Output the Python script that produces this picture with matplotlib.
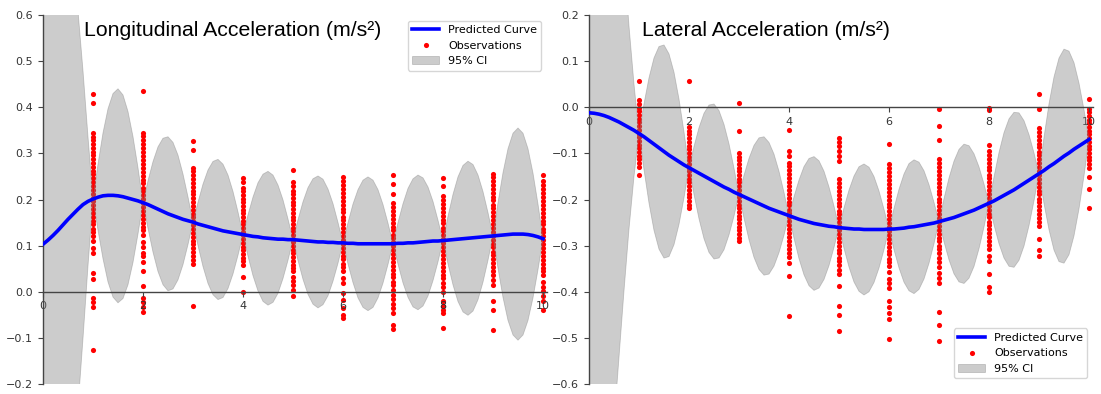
import numpy as np
import matplotlib
matplotlib.use("Agg")
import matplotlib.pyplot as plt

# ---------------------------------------------------------------- data
# prediction grid: 0.0, 0.1, ..., 10.0
x_grid = np.round(np.arange(0, 101) / 10.0, 1)
x_obs = [1, 2, 3, 4, 5, 6, 7, 8, 9, 10]

lon_mean = [
    0.103, 0.112, 0.122, 0.133, 0.145, 0.157, 0.168, 0.179, 0.189, 0.196,
    0.201, 0.205, 0.208, 0.209, 0.209, 0.208, 0.206, 0.203, 0.200, 0.197,
    0.193, 0.189, 0.184, 0.179, 0.174, 0.169, 0.165, 0.161, 0.157, 0.154,
    0.151, 0.147, 0.144, 0.141, 0.138, 0.135, 0.132, 0.130, 0.128, 0.126,
    0.124, 0.122, 0.120, 0.119, 0.117, 0.116, 0.115, 0.114, 0.114, 0.113,
    0.113, 0.112, 0.111, 0.110, 0.109, 0.108, 0.108, 0.107, 0.107, 0.106,
    0.106, 0.105, 0.105, 0.104, 0.104, 0.104, 0.104, 0.104, 0.104, 0.104,
    0.104, 0.105, 0.105, 0.106, 0.106, 0.107, 0.108, 0.109, 0.110, 0.110,
    0.111, 0.112, 0.113, 0.114, 0.115, 0.116, 0.117, 0.118, 0.119, 0.120,
    0.121, 0.122, 0.123, 0.124, 0.125, 0.125, 0.125, 0.124, 0.122, 0.119,
    0.115]

lat_mean = [
    -0.012, -0.013, -0.015, -0.018, -0.022, -0.027, -0.032, -0.038, -0.044, -0.050,
    -0.057, -0.064, -0.072, -0.080, -0.088, -0.096, -0.104, -0.111, -0.118, -0.125,
    -0.131, -0.137, -0.143, -0.149, -0.155, -0.161, -0.167, -0.173, -0.178, -0.184,
    -0.189, -0.194, -0.199, -0.204, -0.209, -0.214, -0.219, -0.223, -0.227, -0.231,
    -0.235, -0.239, -0.243, -0.246, -0.249, -0.252, -0.254, -0.256, -0.258, -0.259,
    -0.261, -0.262, -0.263, -0.264, -0.264, -0.265, -0.265, -0.265, -0.265, -0.265,
    -0.264, -0.264, -0.263, -0.262, -0.260, -0.259, -0.257, -0.255, -0.253, -0.251,
    -0.248, -0.245, -0.242, -0.239, -0.235, -0.231, -0.227, -0.223, -0.218, -0.213,
    -0.208, -0.203, -0.197, -0.191, -0.185, -0.179, -0.172, -0.165, -0.158, -0.151,
    -0.144, -0.137, -0.129, -0.122, -0.114, -0.106, -0.099, -0.091, -0.084, -0.077,
    -0.070]

# CI half-width before the first observation (x = 0.0 ... 1.0)
lon_head_halfwidth = [1.43, 1.29, 1.14, 1.00, 0.86, 0.72, 0.57, 0.43, 0.29, 0.14, 0.0]
lat_head_halfwidth = [1.52, 1.34, 1.16, 0.99, 0.82, 0.66, 0.51, 0.36, 0.22, 0.10, 0.0]

# widest CI half-width between consecutive observation points (1-2, ..., 9-10)
lon_gap_halfwidth = [0.232, 0.167, 0.152, 0.145, 0.143, 0.145, 0.146, 0.167, 0.230]
lat_gap_halfwidth = [0.231, 0.168, 0.150, 0.145, 0.142, 0.145, 0.151, 0.168, 0.232]

lon_obs = [
    [0.429, 0.409, 0.344, 0.336, 0.329, 0.320, 0.312, 0.303, 0.296, 0.287, 0.279, 0.270,
     0.262, 0.255, 0.246, 0.238, 0.229, 0.221, 0.213, 0.204, 0.196, 0.188, 0.179, 0.171,
     0.163, 0.154, 0.146, 0.137, 0.129, 0.120, 0.111, 0.095, 0.084, 0.040, 0.027, -0.014,
     -0.023, -0.032, -0.127],
    [0.435, 0.345, 0.337, 0.328, 0.320, 0.311, 0.303, 0.294, 0.286, 0.277, 0.269, 0.260,
     0.252, 0.243, 0.235, 0.226, 0.218, 0.209, 0.201, 0.192, 0.184, 0.175, 0.167, 0.158,
     0.150, 0.141, 0.133, 0.124, 0.107, 0.097, 0.085, 0.077, 0.064, 0.046, 0.012, -0.014,
     -0.023, -0.032, -0.043],
    [0.327, 0.307, 0.269, 0.261, 0.253, 0.244, 0.236, 0.228, 0.219, 0.211, 0.203, 0.194,
     0.186, 0.178, 0.169, 0.161, 0.153, 0.144, 0.136, 0.128, 0.119, 0.111, 0.103, 0.094,
     0.086, 0.078, 0.069, 0.061, -0.031],
    [0.246, 0.238, 0.226, 0.218, 0.210, 0.202, 0.194, 0.186, 0.178, 0.170, 0.162, 0.154,
     0.146, 0.138, 0.130, 0.122, 0.114, 0.106, 0.098, 0.090, 0.082, 0.074, 0.066, 0.057,
     0.033, 0.000],
    [0.265, 0.239, 0.230, 0.219, 0.211, 0.203, 0.195, 0.187, 0.179, 0.171, 0.163, 0.155,
     0.147, 0.139, 0.131, 0.123, 0.115, 0.107, 0.099, 0.091, 0.083, 0.075, 0.067, 0.059,
     0.051, 0.044, 0.033, 0.024, 0.015, 0.004, -0.010],
    [0.248, 0.240, 0.231, 0.223, 0.214, 0.206, 0.197, 0.189, 0.180, 0.172, 0.163, 0.155,
     0.146, 0.138, 0.129, 0.121, 0.112, 0.104, 0.095, 0.087, 0.078, 0.070, 0.061, 0.053,
     0.044, 0.030, 0.019, -0.003, -0.017, -0.035, -0.050, -0.057],
    [0.254, 0.234, 0.211, 0.192, 0.184, 0.175, 0.167, 0.158, 0.150, 0.141, 0.133, 0.124,
     0.116, 0.107, 0.099, 0.090, 0.082, 0.073, 0.065, 0.056, 0.048, 0.039, 0.031, 0.022,
     0.014, 0.004, -0.006, -0.016, -0.026, -0.036, -0.046, -0.072, -0.081],
    [0.247, 0.230, 0.207, 0.199, 0.190, 0.182, 0.173, 0.165, 0.156, 0.148, 0.139, 0.131,
     0.122, 0.114, 0.105, 0.097, 0.088, 0.080, 0.071, 0.063, 0.054, 0.046, 0.037, 0.029,
     0.020, 0.011, 0.000, -0.021, -0.031, -0.039, -0.046, -0.079],
    [0.256, 0.248, 0.240, 0.232, 0.223, 0.215, 0.206, 0.198, 0.189, 0.181, 0.172, 0.164,
     0.155, 0.147, 0.138, 0.130, 0.121, 0.113, 0.104, 0.096, 0.087, 0.079, 0.070, 0.062,
     0.053, 0.045, 0.037, 0.026, 0.015, -0.021, -0.039, -0.082],
    [0.253, 0.241, 0.232, 0.222, 0.214, 0.205, 0.197, 0.188, 0.180, 0.171, 0.163, 0.154,
     0.146, 0.137, 0.129, 0.120, 0.112, 0.103, 0.095, 0.086, 0.078, 0.069, 0.061, 0.052,
     0.044, 0.036, 0.022, 0.011, 0.001, -0.010, -0.021, -0.039],
]

lat_obs = [
    [0.057, 0.015, 0.007, -0.001, -0.009, -0.017, -0.025, -0.033, -0.041, -0.049, -0.057,
     -0.065, -0.073, -0.081, -0.089, -0.097, -0.105, -0.113, -0.121, -0.130, -0.146],
    [0.057, -0.043, -0.051, -0.059, -0.067, -0.075, -0.083, -0.091, -0.099, -0.107, -0.115,
     -0.123, -0.131, -0.139, -0.147, -0.155, -0.163, -0.171, -0.179, -0.187, -0.195,
     -0.203, -0.211, -0.219],
    [0.009, -0.052, -0.099, -0.107, -0.115, -0.123, -0.131, -0.139, -0.147, -0.155, -0.163,
     -0.171, -0.179, -0.187, -0.195, -0.203, -0.211, -0.219, -0.227, -0.235, -0.243,
     -0.251, -0.259, -0.267, -0.275, -0.283, -0.290],
    [-0.049, -0.095, -0.105, -0.120, -0.128, -0.137, -0.145, -0.154, -0.162, -0.171, -0.179,
     -0.188, -0.196, -0.205, -0.213, -0.222, -0.230, -0.239, -0.247, -0.256, -0.264,
     -0.273, -0.281, -0.290, -0.298, -0.307, -0.315, -0.324, -0.337, -0.365, -0.452],
    [-0.066, -0.075, -0.085, -0.095, -0.105, -0.117, -0.156, -0.164, -0.173, -0.181, -0.190,
     -0.198, -0.207, -0.215, -0.224, -0.232, -0.241, -0.249, -0.258, -0.266, -0.275,
     -0.283, -0.292, -0.300, -0.309, -0.317, -0.326, -0.334, -0.343, -0.352, -0.361,
     -0.388, -0.430, -0.450, -0.486],
    [-0.079, -0.124, -0.132, -0.141, -0.149, -0.158, -0.166, -0.175, -0.183, -0.192, -0.200,
     -0.209, -0.217, -0.226, -0.234, -0.243, -0.251, -0.260, -0.268, -0.277, -0.285,
     -0.294, -0.302, -0.311, -0.319, -0.328, -0.336, -0.345, -0.357, -0.372, -0.381,
     -0.392, -0.419, -0.432, -0.446, -0.459, -0.503],
    [-0.004, -0.040, -0.070, -0.113, -0.121, -0.130, -0.138, -0.147, -0.155, -0.164, -0.172,
     -0.181, -0.189, -0.198, -0.206, -0.215, -0.223, -0.232, -0.240, -0.249, -0.257,
     -0.266, -0.274, -0.283, -0.291, -0.300, -0.308, -0.317, -0.326, -0.336, -0.347,
     -0.359, -0.370, -0.382, -0.443, -0.472, -0.506],
    [-0.001, -0.006, -0.081, -0.095, -0.103, -0.112, -0.120, -0.129, -0.137, -0.146, -0.154,
     -0.163, -0.171, -0.180, -0.188, -0.197, -0.205, -0.214, -0.222, -0.231, -0.239,
     -0.248, -0.256, -0.265, -0.273, -0.282, -0.290, -0.299, -0.307, -0.322, -0.333,
     -0.362, -0.390, -0.401],
    [0.029, -0.004, -0.045, -0.053, -0.062, -0.070, -0.079, -0.087, -0.096, -0.104, -0.113,
     -0.121, -0.130, -0.138, -0.147, -0.155, -0.164, -0.172, -0.181, -0.189, -0.198,
     -0.206, -0.215, -0.223, -0.232, -0.240, -0.249, -0.257, -0.286, -0.310, -0.323],
    [0.018, -0.003, -0.011, -0.019, -0.027, -0.035, -0.043, -0.051, -0.059, -0.067, -0.075,
     -0.083, -0.091, -0.099, -0.107, -0.115, -0.123, -0.131, -0.151, -0.178, -0.219],
]

titles = ["Longitudinal Acceleration (m/s\u00b2)", "Lateral Acceleration (m/s\u00b2)"]
ylims = [(-0.2, 0.6), (-0.6, 0.2)]
legend_locs = ["upper right", "lower right"]


def ci_halfwidth(head, gaps):
    """Half-width of the band on x_grid: a falling edge before the first
    observation, then one rounded lobe between each pair of observations."""
    frac = np.arange(1, 11) / 10.0
    w = list(head)
    for g in gaps:
        w.extend(g * np.sin(np.pi * frac))
    return np.clip(np.array(w), 0, None)


# ---------------------------------------------------------------- figure
fig = plt.figure(figsize=(11.01, 3.94), dpi=100)
axes_rects = [
    [43 / 1101, 10 / 394, 504 / 1101, 369 / 394],
    [589 / 1101, 10 / 394, 504 / 1101, 369 / 394],
]

panels = [
    (lon_mean, lon_head_halfwidth, lon_gap_halfwidth, lon_obs),
    (lat_mean, lat_head_halfwidth, lat_gap_halfwidth, lat_obs),
]

for i, (mean, head, gaps, obs) in enumerate(panels):
    ax = fig.add_axes(axes_rects[i])
    mean = np.array(mean)
    hw = ci_halfwidth(head, gaps)

    # observations
    ox = np.concatenate([[x] * len(v) for x, v in zip(x_obs, obs)])
    oy = np.concatenate(obs)
    obs_line, = ax.plot(ox, oy, "o", color="red", markersize=3.7,
                        markeredgewidth=0, zorder=1, label="Observations")

    # confidence band drawn over the points
    band = ax.fill_between(x_grid, mean - hw, mean + hw, color="gray",
                           alpha=0.4, linewidth=0.6, zorder=2, label="95% CI")

    # predicted mean
    pred_line, = ax.plot(x_grid, mean, color="#0000ff", linewidth=2.6,
                         zorder=3, label="Predicted Curve")

    ax.set_xlim(0, 10.08)
    ax.set_ylim(*ylims[i])
    ax.set_xticks([0, 2, 4, 6, 8, 10])
    ax.set_yticks(np.round(np.arange(ylims[i][0], ylims[i][1] + 1e-9, 0.1), 1))

    ax.spines["top"].set_visible(False)
    ax.spines["right"].set_visible(False)
    ax.spines["bottom"].set_position(("data", 0))
    for s in ("left", "bottom"):
        ax.spines[s].set_color("#444444")
        ax.spines[s].set_linewidth(1.0)
        ax.spines[s].set_zorder(2.5)
    ax.tick_params(axis="both", labelsize=8, colors="#444444",
                   labelcolor="#333333", length=3.5, width=0.8)
    ax.set_facecolor("none")

    ax.text(0.081 if i == 0 else 0.105, 0.943, titles[i], transform=ax.transAxes,
            fontsize=15.3, family="Liberation Sans", va="baseline", ha="left",
            color="black")

    leg = ax.legend(handles=[pred_line, obs_line, band], loc=legend_locs[i],
                    fontsize=8, numpoints=1, handlelength=2.4, framealpha=0.8,
                    edgecolor="#cccccc")
    leg.set_zorder(5)

fig.savefig("out.png", dpi=100)
